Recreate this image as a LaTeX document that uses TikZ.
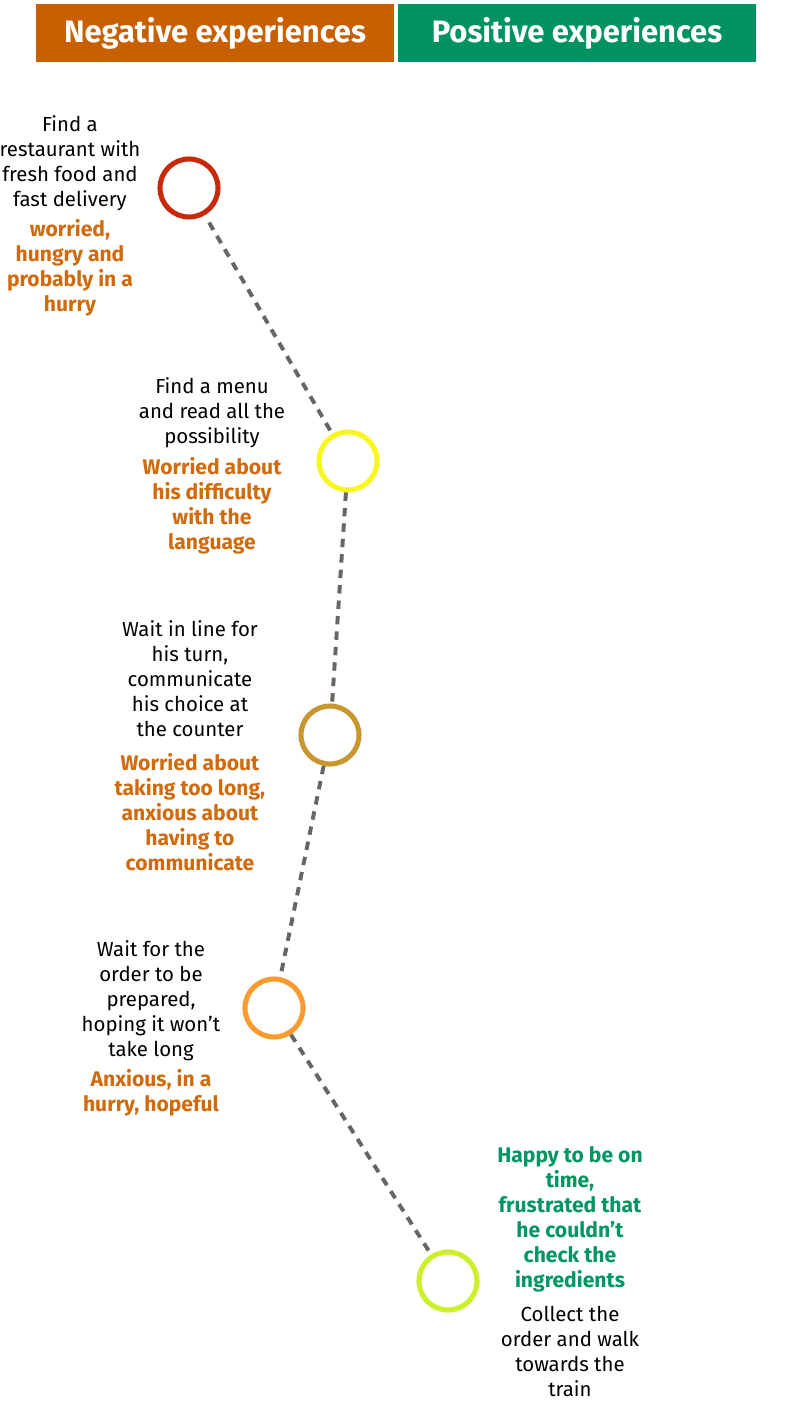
\documentclass[tikz,border=0pt]{standalone}
\usepackage{fontspec}
\setmainfont{Fira Sans}
\usepackage{tikz}
\usetikzlibrary{calc}

\definecolor{negorange}{HTML}{C85F00}
\definecolor{posgreen}{HTML}{00935F}
\definecolor{feelorange}{HTML}{D06A0A}
\definecolor{feelgreen}{HTML}{00965F}
\definecolor{ringred}{HTML}{C8290A}
\definecolor{ringyellow}{HTML}{F7F71E}
\definecolor{ringgold}{HTML}{C8962E}
\definecolor{ringorange}{HTML}{FB9A2E}
\definecolor{ringlime}{HTML}{CCF029}
\definecolor{pathgray}{HTML}{666666}

\tikzset{
    header/.style={draw=none, minimum width=8.95cm, minimum height=1.45cm, text=white,
        font=\fontsize{22}{26}\selectfont\bfseries},
    ring/.style={circle, draw=#1, line width=3.6pt, minimum size=1.45cm, inner sep=0pt},
    doing/.style={align=center, anchor=north, inner sep=0pt, text=black,
        font=\fontsize{14.5}{17.8}\selectfont},
    feeling/.style={align=center, anchor=north, inner sep=0pt, text=#1,
        font=\fontsize{15}{17.8}\selectfont\bfseries},
    journey/.style={pathgray, line width=2.8pt, dash pattern=on 6pt off 5pt}
}

\begin{document}
\begin{tikzpicture}[x=0.025cm, y=-0.025cm]
    \useasboundingbox (0,0) rectangle (800,1407);

    \node[header, fill=negorange] (neg) at (215,33) {Negative experiences};
    \node[header, fill=posgreen] (pos) at (577,33) {Positive experiences};

    \node[ring=ringred] (s1) at (189,188) {};
    \node[ring=ringyellow] (s2) at (348,461) {};
    \node[ring=ringgold] (s3) at (330,735) {};
    \node[ring=ringorange] (s4) at (274,1008) {};
    \node[ring=ringlime] (s5) at (448,1281) {};

    \node[doing] (d1) at ($(s1) + (-119, -73)$) {Find a\\restaurant with\\fresh food and\\fast delivery};
    \node[feeling=feelorange] (f1) at ($(s1) + (-119, 31)$) {worried,\\hungry and\\probably in a\\hurry};

    \node[doing] (d2) at ($(s2) + (-136, -84)$) {Find a menu\\and read all the\\possibility};
    \node[feeling=feelorange] (f2) at ($(s2) + (-136, -4)$) {Worried about\\his difficulty\\with the\\language};

    \node[doing] (d3) at ($(s3) + (-140, -115)$) {Wait in line for\\his turn,\\communicate\\his choice at\\the counter};
    \node[feeling=feelorange] (f3) at ($(s3) + (-140, 18)$) {Worried about\\taking too long,\\anxious about\\having to\\communicate};

    \node[doing] (d4) at ($(s4) + (-123, -68)$) {Wait for the\\order to be\\prepared,\\hoping it won’t\\take long};
    \node[feeling=feelorange] (f4) at ($(s4) + (-123, 61)$) {Anxious, in a\\hurry, hopeful};

    \node[feeling=feelgreen] (f5) at ($(s5) + (122, -135)$) {Happy to be on\\time,\\frustrated that\\he couldn’t\\check the\\ingredients};
    \node[doing] (d5) at ($(s5) + (122, 25)$) {Collect the\\order and walk\\towards the\\train};

    \draw[journey, shorten <=6pt] (s1) -- (s2);
    \draw[journey] (s2) -- (s3);
    \draw[journey] (s3) -- (s4);
    \draw[journey] (s4) -- (s5);

\end{tikzpicture}
\end{document}
